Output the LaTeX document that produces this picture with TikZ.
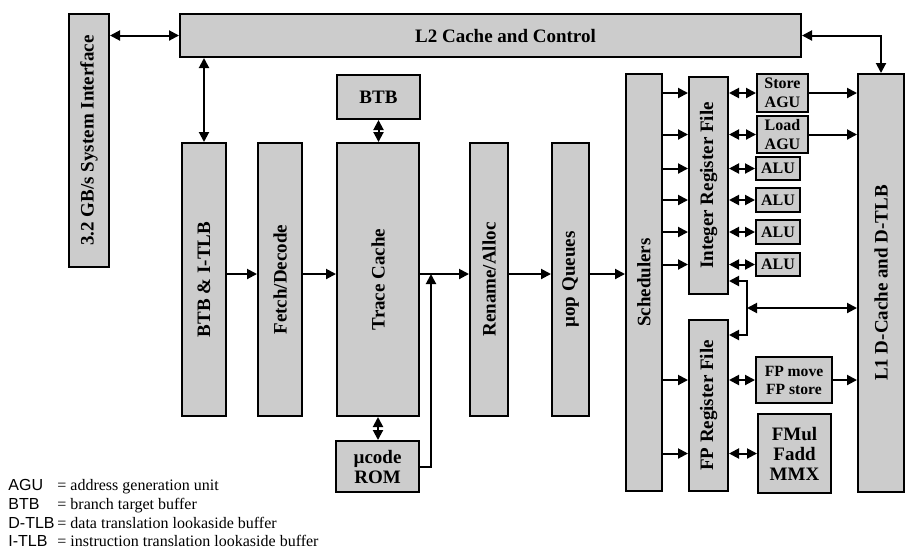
\documentclass[tikz,border=0pt]{standalone}
\usepackage{fontspec}
\setmainfont{Liberation Serif}
\newfontfamily\legendsans{Liberation Sans}
\usepackage{graphicx}
\usepackage{tikz}
\usetikzlibrary{arrows.meta, positioning, calc}
\definecolor{unitgray}{HTML}{CCCCCC}

\begin{document}
\begin{tikzpicture}[x=0.5pt, y=-0.5pt,
    corners/.style n args={4}{at={({(#1+#3)/2},{(#2+#4)/2})},
                 minimum width={(#3-#1)*0.5pt}, minimum height={(#4-#2)*0.5pt}},
    unit/.style={draw, fill=unitgray, line width=1pt, inner sep=0pt, align=center,
                 font=\fontsize{9.5}{10}\selectfont\bfseries},
    minor/.style={unit, font=\fontsize{8}{9.5}\selectfont\bfseries},
    arr/.style={-{Triangle[length=5pt,width=5pt]}, line width=1pt},
    dblarr/.style={{Triangle[length=5pt,width=5pt]}-{Triangle[length=5pt,width=5pt]}, line width=1pt},
    legend/.style={anchor=base west, inner sep=0pt, font=\fontsize{8}{9}\selectfont}]
    \useasboundingbox (0,0) rectangle (909,548);

    % Memory side
    \node[unit, corners={69}{14}{109}{267}] (sysif) {\rotatebox{90}{3.2 GB/s System Interface}};
    \node[unit, corners={180}{14}{801}{57}] (l2) {\hspace*{15pt}L2 Cache and Control};
    \node[unit, corners={858}{74}{904}{492}] (l1) {\rotatebox{90}{L1 D-Cache and D-TLB}};

    % Front end
    \node[unit, corners={182}{143}{226}{416}] (itlb) {\rotatebox{90}{BTB \& I-TLB}};
    \node[unit, corners={258}{143}{302}{416}] (fetch) {\rotatebox{90}{Fetch/Decode}};
    \node[unit, corners={337}{143}{419}{416}] (trace) {\rotatebox{90}{Trace Cache}};
    \node[unit, corners={337}{75}{420}{119}] (btb) {BTB};
    \node[unit, corners={336}{441}{419}{492}] (rom) {µcode\\ROM};
    \node[unit, corners={470}{143}{508}{416}] (rename) {\rotatebox{90}{Rename/Alloc}};
    \node[unit, corners={552}{143}{589}{416}] (queues) {\rotatebox{90}{µop Queues}};
    \node[unit, corners={626}{74}{662}{491}] (sched) {\rotatebox{90}{Schedulers}};

    % Execution
    \node[unit, corners={689}{77}{728}{294}] (irf) {\rotatebox{90}{Integer Register File}};
    \node[unit, corners={689}{320}{728}{491}] (fprf) {\rotatebox{90}{FP Register File}};
    \node[minor, corners={757}{74}{808}{112}] (sagu) {Store\\AGU};
    \node[minor, corners={757}{116}{808}{153}] (lagu) {Load\\AGU};
    \foreach \n/\ya/\yb in {1/157/180, 2/188/212, 3/220/244, 4/253/276}
        \node[minor, corners={756}{\ya}{800}{\yb}] (alu\n) {ALU};
    \node[minor, font=\fontsize{7.8}{9}\selectfont\bfseries, corners={756}{357}{832}{403}] (fpmov) {FP move\\FP store};
    \node[unit, corners={758}{414}{831}{493}] (fmul) {FMul\\Fadd\\MMX};

    % Connections to the caches
    \draw[dblarr] (sysif.east |- l2.west) -- (l2.west);
    \draw[dblarr] (l2.south -| itlb.north) -- (itlb.north);
    \draw[dblarr] (l2.east) -| (l1.north);
    \draw[dblarr] (btb.south) -- (btb.south |- trace.north);
    \draw[dblarr] (trace.south) -- (trace.south |- rom.north);

    % Pipeline
    \coordinate (pipe) at (0,274);
    \foreach \a/\b in {itlb/fetch, fetch/trace, trace/rename, rename/queues, queues/sched}
        \draw[arr] (\a.east |- pipe) -- (\b.west |- pipe);
    \coordinate (romjoin) at (431,274);
    \draw[arr] (rom.east) -| (romjoin);

    % Issue ports
    \foreach \u in {sagu, lagu, alu1, alu2, alu3, alu4} {
        \draw[arr] (sched.east |- \u.west) -- (irf.west |- \u.west);
        \draw[dblarr] (irf.east |- \u.west) -- (\u.west);
    }
    \foreach \u in {fpmov, fmul} {
        \draw[arr] (sched.east |- \u.west) -- (fprf.west |- \u.west);
        \draw[dblarr] (fprf.east |- \u.west) -- (\u.west);
    }
    \draw[arr] (sagu.east) -- (sagu.east -| l1.west);
    \draw[arr] (lagu.east) -- (lagu.east -| l1.west);
    \draw[arr] (fpmov.east) -- (fpmov.east -| l1.west);

    % Load data bus
    \coordinate (bus) at (747,308);
    \draw[arr] (bus) |- ([yshift=7pt]irf.south east);
    \draw[arr] (bus) |- ([yshift=-8pt]fprf.north east);
    \draw[dblarr] (bus) -- (bus -| l1.west);

    % Legend
    \node[legend] (legagu) at (8,490) {\makebox[24.5pt][l]{\legendsans AGU}= address generation unit};
    \node[legend] (legbtb) at (8,509) {\makebox[24.5pt][l]{\legendsans BTB}= branch target buffer};
    \node[legend] (legdtlb) at (8,528) {\makebox[24.5pt][l]{\legendsans D-TLB}= data translation lookaside buffer};
    \node[legend] (legitlb) at (8,546) {\makebox[24.5pt][l]{\legendsans I-TLB}= instruction translation lookaside buffer};
\end{tikzpicture}
\end{document}
